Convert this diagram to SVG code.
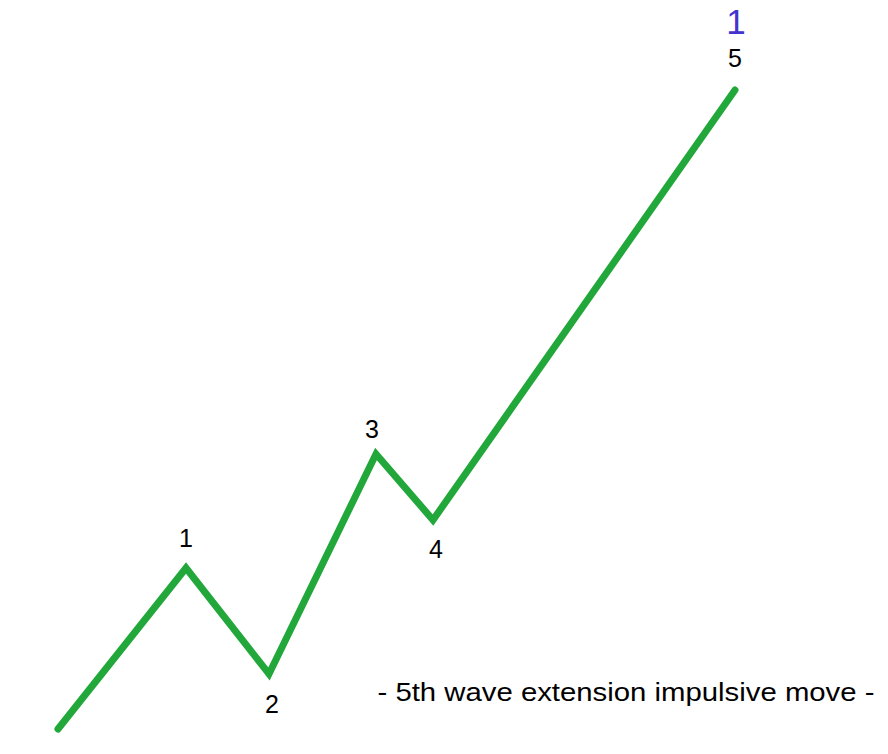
<svg xmlns="http://www.w3.org/2000/svg" width="888" height="754" viewBox="0 0 888 754">
<style>
.lbl{font-family:"Liberation Sans",Arial,sans-serif;font-size:25px;fill:#000;text-anchor:middle}
.wave{fill:none;stroke:#22a83a;stroke-width:7;stroke-linejoin:miter;stroke-linecap:round}
</style>
<rect width="888" height="754" fill="#fff"/>
<g id="connectors">
<polyline class="wave" points="58,729 186,568 269,674 376,454 433,520 735,90"/>
</g>
<g id="p1"><text class="lbl" x="186" y="547">1</text></g>
<g id="p2"><text class="lbl" x="272" y="713">2</text></g>
<g id="p3"><text class="lbl" x="372" y="438">3</text></g>
<g id="p4"><text class="lbl" x="436" y="558">4</text></g>
<g id="p5"><text class="lbl" x="735" y="67">5</text></g>
<g id="degree"><text class="lbl" x="736" y="34" style="font-size:35px;fill:#4433cc">1</text></g>
<g id="caption"><text class="lbl" x="626" y="701" style="font-size:26px" textLength="497" lengthAdjust="spacingAndGlyphs">- 5th wave extension impulsive move -</text></g>
</svg>
